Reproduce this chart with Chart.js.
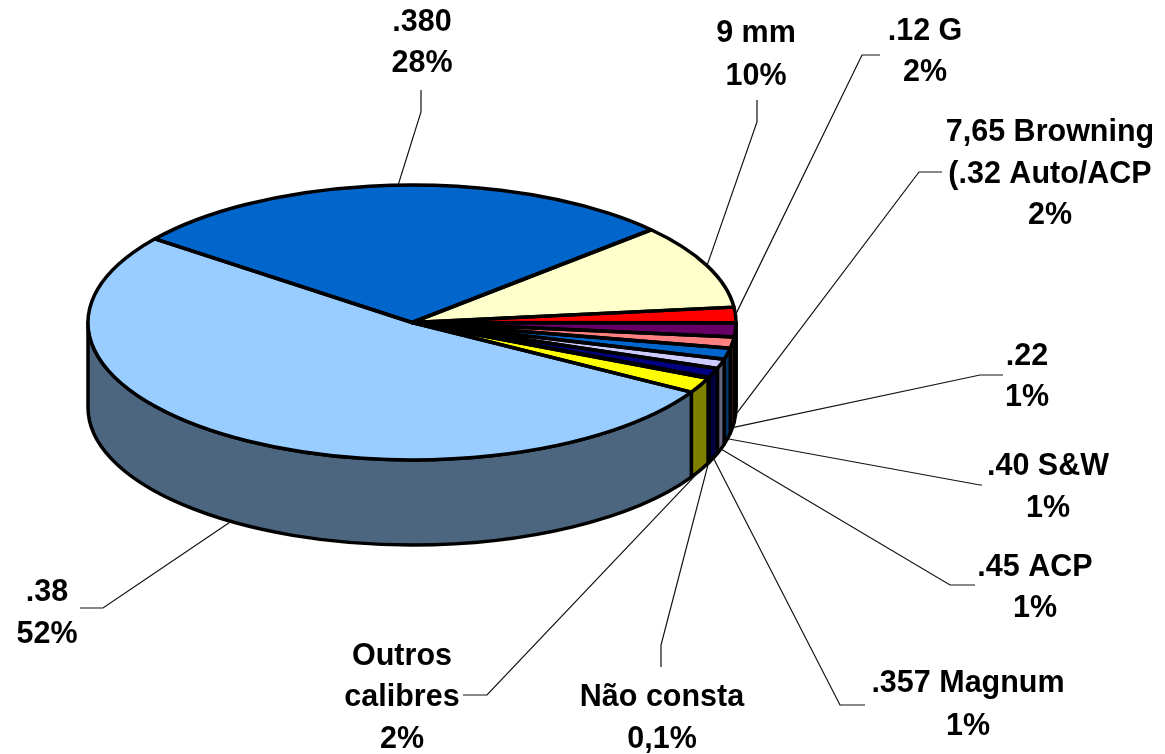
<!DOCTYPE html>
<html>
<head>
<meta charset="utf-8">
<title>Calibres</title>
<script src="https://cdn.jsdelivr.net/npm/chart.js@4"></script>
<style>
  html, body { margin: 0; padding: 0; background: #fff; overflow: hidden; }
  canvas { display: block; }
</style>
</head>
<body>
<canvas id="pie" width="1165" height="754"></canvas>
<script>
// Data, clockwise starting at the .380 slice
const categories = ['.380', '9 mm', '.12 G', '7,65 Browning\n(.32 Auto/ACP', '.22', '.40 S&W', '.45 ACP', '.357 Magnum', 'Não consta', 'Outros\ncalibres', '.38']
const shownPercent = ['28%', '10%', '2%', '2%', '1%', '1%', '1%', '1%', '0,1%', '2%', '52%']
const values = [27.8, 10, 1.8, 1.67, 1.3, 1.33, 1.1, 1.14, 0.1, 1.8, 51.96]
const colors = ['#0066CC', '#FFFFCC', '#FF0000', '#660066', '#FF8080', '#0066CC', '#CCCCFF', '#000080', '#FF00FF', '#FFFF00', '#99CCFF']

// Label layout: centre x, y of each line, elbow of the leader, end of the leader
const labelX = [422, 756, 925, 1050, 1027, 1048, 1035, 968, 662, 402, 47]
const labelY = [[22.5, 63.5], [33.5, 76.5], [31.5, 72.5], [132.5, 174.5, 215.5], [356.5, 397.5], [466.5, 508.5], [567.5, 608.5], [683.5, 726.5], [697.5, 739.5], [656.5, 697.5, 739.5], [592.5, 634.5]]
const leaderElbow = [[421, 112], [757, 122], [862, 55], [919, 172], [980, 375], [980, 485], [950, 585], [840, 705], [661, 645], [487, 695], [103, 608]]
const leaderEnd = [[421, 90], [757, 100], [880, 55], [942, 172], [1003, 375], [982, 485], [975, 585], [865, 705], [661, 667], [463, 695], [80, 608]]
const frontRim = [false, false, false, true, true, true, true, true, true, true, true]

const squash = 0.4244 // ellipse height / width
const depth = 85
const centerY = 322.5
const lineW = 3.5

function halfColor(hex) {
  const n = parseInt(hex.slice(1), 16)
  return 'rgb(' + ((n >> 16) >> 1) + ',' + (((n >> 8) & 255) >> 1) + ',' + ((n & 255) >> 1) + ')'
}

const pie3d = {
  id: 'pie3d',
  beforeDatasetsDraw(chart) {
    const ctx = chart.ctx
    const arcs = chart.getDatasetMeta(0).data

    // side wall
    ctx.save()
    ctx.lineWidth = lineW
    ctx.lineJoin = 'round'
    ctx.strokeStyle = '#000'
    arcs.forEach((arc, i) => {
      const a = Math.max(arc.startAngle, 0)
      const b = Math.min(arc.endAngle, Math.PI)
      if (b <= a) return
      const rx = arc.outerRadius
      const ry = rx * squash
      ctx.beginPath()
      ctx.ellipse(arc.x, centerY, rx, ry, 0, a, b)
      ctx.ellipse(arc.x, centerY + depth, rx, ry, 0, b, a, true)
      ctx.closePath()
      ctx.fillStyle = halfColor(colors[i])
      ctx.fill()
      ctx.stroke()
    })
    ctx.restore()

    // squash the pie the library draws
    const cx = arcs[0].x
    const cy = arcs[0].y
    ctx.save()
    ctx.translate(cx, centerY)
    ctx.scale(1, squash)
    ctx.translate(-cx, -cy)
  },
  afterDatasetsDraw(chart) {
    const ctx = chart.ctx
    ctx.restore()
    const arcs = chart.getDatasetMeta(0).data

    // slice outlines, stroked unsquashed so the line stays even
    ctx.save()
    ctx.lineWidth = lineW
    ctx.lineJoin = 'round'
    ctx.strokeStyle = '#000'
    arcs.forEach((arc) => {
      const rx = arc.outerRadius
      ctx.beginPath()
      ctx.moveTo(arc.x, centerY)
      ctx.ellipse(arc.x, centerY, rx, rx * squash, 0, arc.startAngle, arc.endAngle)
      ctx.closePath()
      ctx.stroke()
    })
    ctx.restore()

    // leaders
    ctx.save()
    ctx.lineWidth = 1.2
    ctx.strokeStyle = '#111'
    arcs.forEach((arc, i) => {
      const mid = (arc.startAngle + arc.endAngle) / 2
      const rx = arc.outerRadius
      const px = arc.x + Math.cos(mid) * rx
      const py = centerY + Math.sin(mid) * rx * squash + (frontRim[i] ? depth : 0)
      ctx.beginPath()
      ctx.moveTo(px, py)
      ctx.lineTo(leaderElbow[i][0], leaderElbow[i][1])
      ctx.lineTo(leaderEnd[i][0], leaderEnd[i][1])
      ctx.stroke()
    })
    ctx.restore()

    // labels
    ctx.save()
    ctx.font = 'bold 30.5px "Liberation Sans", Arial, sans-serif'
    ctx.fillStyle = '#000'
    ctx.textAlign = 'center'
    ctx.textBaseline = 'middle'
    categories.forEach((cat, i) => {
      const lines = cat.split('\n').concat(shownPercent[i])
      lines.forEach((line, j) => {
        ctx.fillText(line, labelX[i], labelY[i][j])
      })
    })
    ctx.restore()
  },
}

new Chart(document.getElementById('pie').getContext('2d'), {
  type: 'pie',
  data: {
    labels: categories,
    datasets: [
      {
        data: values,
        backgroundColor: colors,
        borderWidth: 0,
        clip: false,
      },
    ],
  },
  options: {
    responsive: false,
    animation: false,
    rotation: -52.5,
    layout: { padding: { left: 88, right: 429, top: 0, bottom: 106 } },
    plugins: {
      legend: { display: false },
      tooltip: { enabled: false },
    },
  },
  plugins: [pie3d],
})
</script>
</body>
</html>
